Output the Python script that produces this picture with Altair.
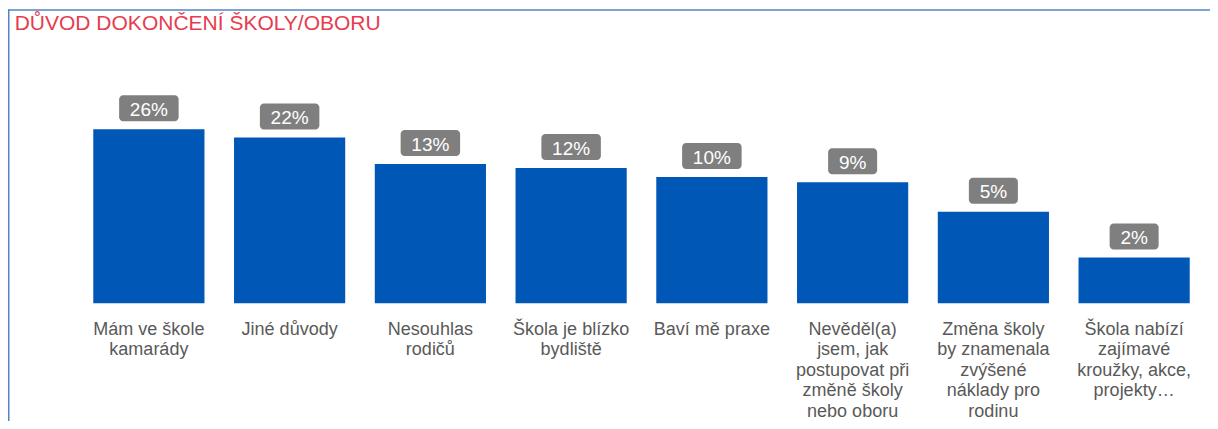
import altair as alt
import pandas as pd

FONT = "Liberation Sans, Arial, sans-serif"

title_text = "DŮVOD DOKONČENÍ ŠKOLY/OBORU"
categories = [
    "Mám ve škole\nkamarády",
    "Jiné důvody",
    "Nesouhlas\nrodičů",
    "Škola je blízko\nbydliště",
    "Baví mě praxe",
    "Nevěděl(a)\njsem, jak\npostupovat při\nzměně školy\nnebo oboru",
    "Změna školy\nby znamenala\nzvýšené\nnáklady pro\nrodinu",
    "Škola nabízí\nzajímavé\nkroužky, akce,\nprojekty…",
]
values = [26, 22, 13, 12, 10, 9, 5, 2]
labels = ["26%", "22%", "13%", "12%", "10%", "9%", "5%", "2%"]

df = pd.DataFrame({"cat": categories, "value": values, "label": labels})

Y_MIN, Y_MAX = 0.8, 100

x_enc = alt.X(
    "cat:N",
    sort=None,
    scale=alt.Scale(paddingInner=0.21, paddingOuter=0.105),
    axis=alt.Axis(
        title=None,
        labelExpr="split(datum.label, '\\n')",
        labelAngle=0,
        ticks=False,
        tickSize=0,
        domain=False,
        grid=False,
        labelPadding=31,
        labelBaseline="alphabetic",
        labelAlign="center",
        labelFontSize=18,
        labelLineHeight=20.5,
        labelColor="#595959",
        labelFont=FONT,
        labelLimit=250,
    ),
)
y_enc = alt.Y(
    "value:Q",
    scale=alt.Scale(type="log", domain=[Y_MIN, Y_MAX], nice=False),
    axis=None,
)

base = alt.Chart(df)

bars = base.mark_bar(color="#0057b5").encode(
    x=x_enc, y=y_enc, y2=alt.datum(Y_MIN)
)

boxes = (
    base.transform_calculate(bw="length(datum.label) * 10.5 + 28")
    .mark_bar(color="#7f7f7f", cornerRadius=4, yOffset=-34, y2Offset=-8)
    .encode(
        x=x_enc,
        y=y_enc,
        y2=alt.Y2("value:Q"),
        size=alt.Size("bw:Q", scale=None, legend=None),
    )
)

texts = base.mark_text(
    color="white", fontSize=19, dy=-13.3, baseline="alphabetic", font=FONT
).encode(x=x_enc, y=y_enc, text="label:N")

frame_df = pd.DataFrame({"k": [0]})
top_line = alt.Chart(frame_df).mark_rule(
    color="#5583c9", strokeWidth=1.5, clip=False
).encode(x=alt.value(-70.5), x2=alt.value(1200), y=alt.value(-51.9))
left_line = alt.Chart(frame_df).mark_rule(
    color="#5583c9", strokeWidth=1.5, clip=False
).encode(x=alt.value(-69.75), y=alt.value(-52.6), y2=alt.value(400))

title_df = pd.DataFrame({"t": [title_text]})
title = alt.Chart(title_df).mark_text(
    align="left",
    baseline="alphabetic",
    fontSize=21,
    color="#e63c50",
    font=FONT,
    clip=False,
).encode(x=alt.value(-63.8), y=alt.value(-31.9), text="t:N")

chart = (
    alt.layer(bars, boxes, texts, top_line, left_line, title)
    .properties(
        width=1126,
        height=241.4,
        padding={"left": 70.5, "top": 53.9, "right": 5.5, "bottom": 117.7},
        autosize=alt.AutoSizeParams(type="none"),
    )
    .configure_view(stroke=None)
)

chart.save("out.html", embed_options={"renderer": "svg", "actions": False})
